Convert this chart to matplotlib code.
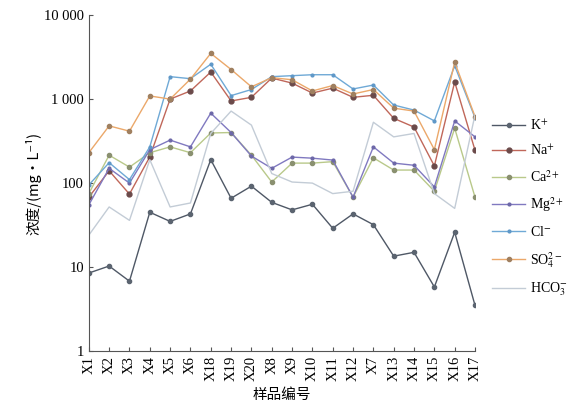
import matplotlib
matplotlib.use("Agg")
import matplotlib.pyplot as plt

plt.rcParams.update({
    "font.family": ["Liberation Serif", "DejaVu Serif"],
    "mathtext.fontset": "stix",
    "font.size": 10,
})

# ---------- data ----------
samples = ["X1", "X2", "X3", "X4", "X5", "X6", "X18", "X19", "X20", "X8",
           "X9", "X10", "X11", "X12", "X7", "X13", "X14", "X15", "X16", "X17"]

k_ion = [8.5, 10.3, 6.8, 45, 35, 43, 190, 66, 92, 59,
         48, 56, 29, 43, 32, 13.5, 15, 5.8, 26, 3.5]
na_ion = [68, 140, 74, 205, 1000, 1250, 2100, 950, 1050, 1780,
          1550, 1180, 1350, 1050, 1110, 590, 465, 160, 1600, 246]
ca_ion = [75, 215, 155, 230, 270, 230, 395, 400, 215, 103,
          173, 173, 180, 68, 200, 143, 143, 80, 450, 68]
mg_ion = [55, 150, 100, 250, 325, 270, 680, 400, 210, 150,
          204, 198, 188, 68, 270, 173, 163, 90, 550, 355]
cl_ion = [95, 175, 110, 270, 1850, 1750, 2600, 1100, 1300, 1850,
          1900, 1950, 1950, 1320, 1470, 850, 740, 550, 2500, 600]
so4_ion = [230, 480, 415, 1090, 1000, 1730, 3500, 2250, 1400, 1800,
           1700, 1250, 1450, 1150, 1300, 780, 720, 250, 2750, 620]
hco3_ion = [24, 52, 36, 190, 52, 58, 390, 720, 490, 130,
            103, 100, 75, 80, 530, 355, 390, 75, 50, 650]

series = [
    (r"K$^{+}$", k_ion, "#4f5866", "o", 3.0),
    (r"Na$^{+}$", na_ion, "#c0675a", "o", 3.5),
    (r"Ca$^{2+}$", ca_ion, "#b9c98a", "o", 3.0),
    (r"Mg$^{2+}$", mg_ion, "#8079c0", "o", 2.0),
    (r"Cl$^{-}$", cl_ion, "#6fa9d6", "o", 2.0),
    (r"SO$_4^{2-}$", so4_ion, "#eba86a", "o", 3.0),
    (r"HCO$_3^{-}$", hco3_ion, "#c3ccd6", None, 0),
]
marker_face = {"K": "#5b6470", "Na": "#6b4a4a", "Ca": "#8a9070",
               "Mg": "#6d68a8", "Cl": "#5f98c8", "SO": "#a08060"}

fig = plt.figure(figsize=(5.73, 4.19), dpi=100)
ax = fig.add_axes([0.155, 0.162, 0.674, 0.802])

x = list(range(len(samples)))
for label, vals, col, mk, ms in series:
    key = label.split("$")[0]
    mfc = marker_face.get(key, col)
    ax.plot(x, vals, color=col, lw=1.0, marker=mk, ms=ms,
            mfc=mfc, mec=mfc, label=label)

ax.set_yscale("log")
ax.set_ylim(1, 10000)
ax.set_xlim(0, len(samples) - 1)
ax.set_yticks([1, 10, 100, 1000, 10000])
ax.set_yticklabels(["1", "10", "100", "1 000", "10 000"], fontsize=10.5)
ax.minorticks_off()
ax.set_xticks(x)
ax.set_xticklabels(samples, rotation=90, fontsize=10.5)
ax.tick_params(direction="in", length=3, color="#555555")

for side in ["top", "right"]:
    ax.spines[side].set_visible(False)
for side in ["left", "bottom"]:
    ax.spines[side].set_color("#555555")

cjk = ["Noto Sans CJK SC", "DejaVu Sans"]
ax.set_ylabel("浓度/(mg·L⁻¹)", family=cjk, fontsize=10.5, labelpad=2)
ax.set_xlabel("样品编号", family=cjk, fontsize=10.5, labelpad=5)

ax.legend(loc="upper left", bbox_to_anchor=(1.03, 0.71), frameon=False,
          fontsize=10, handlelength=2.4, handletextpad=0.3,
          labelspacing=0.78, borderaxespad=0)

fig.savefig("out.png", dpi=100)
